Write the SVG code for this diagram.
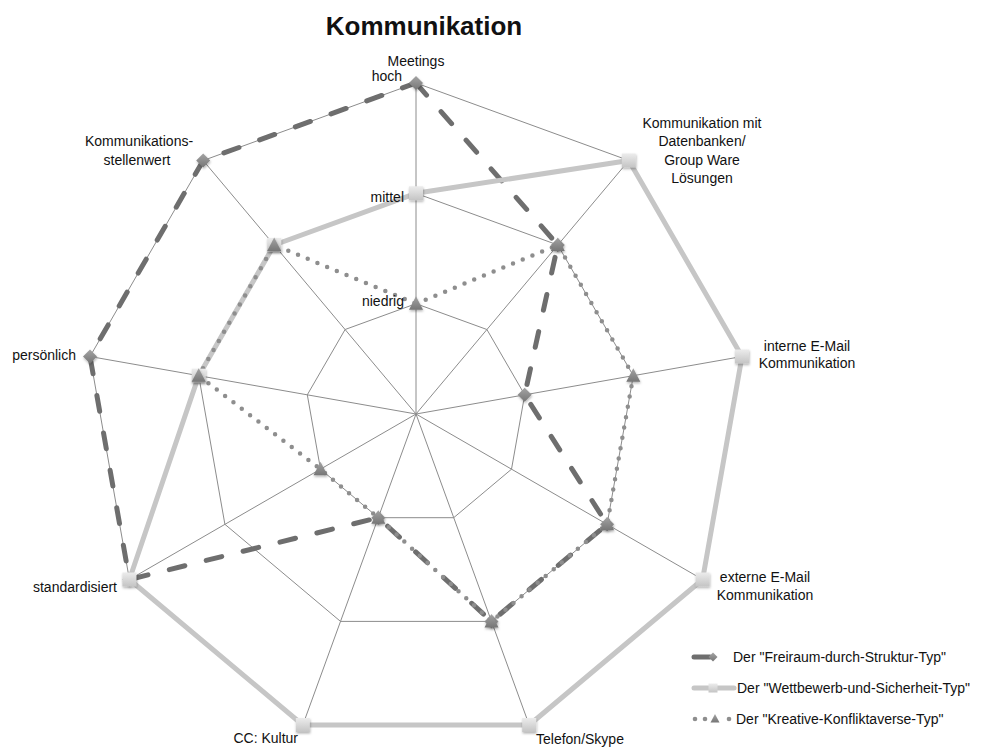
<svg xmlns="http://www.w3.org/2000/svg" xmlns:xlink="http://www.w3.org/1999/xlink" width="981" height="747" viewBox="0 0 981 747">
  <style>
    text { font-family: "Liberation Sans", Arial, sans-serif; font-size: 14px; fill: #111; }
    .title { font-size: 26px; font-weight: bold; }
    .grid { fill: none; stroke: #8c8c8c; stroke-width: 1; }
    .s1 { fill: none; stroke: #6e6e6e; stroke-width: 5; stroke-dasharray: 16 22; stroke-linecap: round; }
    .s2 { fill: none; stroke: #c6c6c6; stroke-width: 5; stroke-linejoin: round; }
    .s3 { fill: none; stroke: #8e8e8e; stroke-width: 4.5; stroke-dasharray: 0 10.5; stroke-linecap: round; }
    .mid { text-anchor: middle; }
    .end { text-anchor: end; }
  </style>
  <defs>
    <linearGradient id="gDark" x1="0" y1="0" x2="0" y2="1">
      <stop offset="0" stop-color="#a4a4a4"/>
      <stop offset="1" stop-color="#767676"/>
    </linearGradient>
    <linearGradient id="gLight" x1="0" y1="0" x2="0" y2="1">
      <stop offset="0" stop-color="#ececec"/>
      <stop offset="1" stop-color="#c4c4c4"/>
    </linearGradient>
    <filter id="shadow" x="-50%" y="-50%" width="200%" height="200%">
      <feDropShadow dx="0.5" dy="1.5" stdDeviation="1.2" flood-color="#000" flood-opacity="0.3"/>
    </filter>
    <polygon id="diamond" points="0,-7 7,0 0,7 -7,0" fill="url(#gDark)" filter="url(#shadow)"/>
    <rect id="square" x="-7" y="-7" width="14" height="14" fill="url(#gLight)" filter="url(#shadow)"/>
    <polygon id="triangle" points="0,-7.5 7,6 -7,6" fill="url(#gDark)" filter="url(#shadow)"/>
  </defs>

  <rect width="981" height="747" fill="#fff"/>

  <text class="title mid" x="424" y="35">Kommunikation</text>

  <!-- radar grid: three rings and nine spokes, centre (416,414), radius 331 -->
  <g id="grid">
    <polygon class="grid" points="416,83 628.8,160.5 742,356.5 702.6,579.5 529.2,725 302.8,725 129.4,579.5 90,356.5 203.2,160.5"/>
    <polygon class="grid" points="416,193.3 557.8,245 633.3,375.7 607.1,524.3 491.5,621.4 340.5,621.4 224.9,524.3 198.7,375.7 274.2,245"/>
    <polygon class="grid" points="416,303.7 486.9,329.5 524.7,394.8 511.5,469.2 453.7,517.7 378.3,517.7 320.5,469.2 307.3,394.8 345.1,329.5"/>
    <path class="grid" d="M416,414L416,83 M416,414L628.8,160.5 M416,414L742,356.5 M416,414L702.6,579.5 M416,414L529.2,725 M416,414L302.8,725 M416,414L129.4,579.5 M416,414L90,356.5 M416,414L203.2,160.5"/>
  </g>

  <!-- data series -->
  <g id="series-lines">
    <polygon id="line-freiraum" class="s1" points="416,83 557.8,245 524.7,394.8 607.1,524.3 491.5,621.4 378.3,517.7 129.4,579.5 90,356.5 203.2,160.5"/>
    <polygon id="line-wettbewerb" class="s2" points="416,193.3 628.8,160.5 742,356.5 702.6,579.5 529.2,725 302.8,725 129.4,579.5 198.7,375.7 274.2,245"/>
    <polygon id="line-kreativ" class="s3" points="416,303.7 557.8,245 633.3,375.7 607.1,524.3 491.5,621.4 378.3,517.7 320.5,469.2 198.7,375.7 274.2,245"/>
  </g>

  <g id="markers-freiraum">
    <use href="#diamond" x="416" y="83"/>
    <use href="#diamond" x="557.8" y="245"/>
    <use href="#diamond" x="524.7" y="394.8"/>
    <use href="#diamond" x="607.1" y="524.3"/>
    <use href="#diamond" x="491.5" y="621.4"/>
    <use href="#diamond" x="378.3" y="517.7"/>
    <use href="#diamond" x="129.4" y="579.5"/>
    <use href="#diamond" x="90" y="356.5"/>
    <use href="#diamond" x="203.2" y="160.5"/>
  </g>
  <g id="markers-wettbewerb">
    <use href="#square" x="416" y="193.3"/>
    <use href="#square" x="628.8" y="160.5"/>
    <use href="#square" x="742" y="356.5"/>
    <use href="#square" x="702.6" y="579.5"/>
    <use href="#square" x="529.2" y="725"/>
    <use href="#square" x="302.8" y="725"/>
    <use href="#square" x="129.4" y="579.5"/>
    <use href="#square" x="198.7" y="375.7"/>
    <use href="#square" x="274.2" y="245"/>
  </g>
  <g id="markers-kreativ">
    <use href="#triangle" x="416" y="303.7"/>
    <use href="#triangle" x="557.8" y="245"/>
    <use href="#triangle" x="633.3" y="375.7"/>
    <use href="#triangle" x="607.1" y="524.3"/>
    <use href="#triangle" x="491.5" y="621.4"/>
    <use href="#triangle" x="378.3" y="517.7"/>
    <use href="#triangle" x="320.5" y="469.2"/>
    <use href="#triangle" x="198.7" y="375.7"/>
    <use href="#triangle" x="274.2" y="245"/>
  </g>

  <!-- axis and scale labels -->
  <g id="labels">
    <text class="mid" x="416" y="66">Meetings</text>
    <text class="end" x="402" y="81">hoch</text>
    <text class="end" x="404" y="202">mittel</text>
    <text class="end" x="404" y="306">niedrig</text>
    <text class="mid" x="702" y="128">Kommunikation mit</text>
    <text class="mid" x="702" y="146">Datenbanken/</text>
    <text class="mid" x="702" y="165">Group Ware</text>
    <text class="mid" x="702" y="183">Lösungen</text>
    <text class="mid" x="807" y="351">interne E-Mail</text>
    <text class="mid" x="807" y="368">Kommunikation</text>
    <text class="mid" x="765" y="582">externe E-Mail</text>
    <text class="mid" x="765" y="600">Kommunikation</text>
    <text x="536" y="744">Telefon/Skype</text>
    <text class="end" x="298" y="743">CC: Kultur</text>
    <text class="end" x="117" y="592">standardisiert</text>
    <text class="end" x="76" y="360">persönlich</text>
    <text class="mid" x="139" y="146">Kommunikations-</text>
    <text class="mid" x="137" y="165">stellenwert</text>
  </g>

  <!-- legend -->
  <g id="legend">
    <g id="legend-freiraum">
      <line x1="694" y1="657" x2="710" y2="657" stroke="#6e6e6e" stroke-width="5" stroke-linecap="round"/>
      <polygon points="713,652.5 717.5,657 713,661.5 708.5,657" fill="url(#gDark)"/>
      <text x="733" y="662">Der "Freiraum-durch-Struktur-Typ"</text>
    </g>
    <g id="legend-wettbewerb">
      <line x1="694" y1="688" x2="734" y2="688" stroke="#c6c6c6" stroke-width="5" stroke-linecap="round"/>
      <rect x="708.5" y="683.5" width="9" height="9" fill="url(#gLight)"/>
      <text x="737" y="693">Der "Wettbewerb-und-Sicherheit-Typ"</text>
    </g>
    <g id="legend-kreativ">
      <circle cx="695" cy="719" r="2.3" fill="#8e8e8e"/>
      <circle cx="705" cy="719" r="2.3" fill="#8e8e8e"/>
      <polygon points="715,714 719.5,722.5 710.5,722.5" fill="url(#gDark)"/>
      <circle cx="729" cy="719" r="2.3" fill="#8e8e8e"/>
      <text x="736" y="724">Der "Kreative-Konfliktaverse-Typ"</text>
    </g>
  </g>
</svg>
